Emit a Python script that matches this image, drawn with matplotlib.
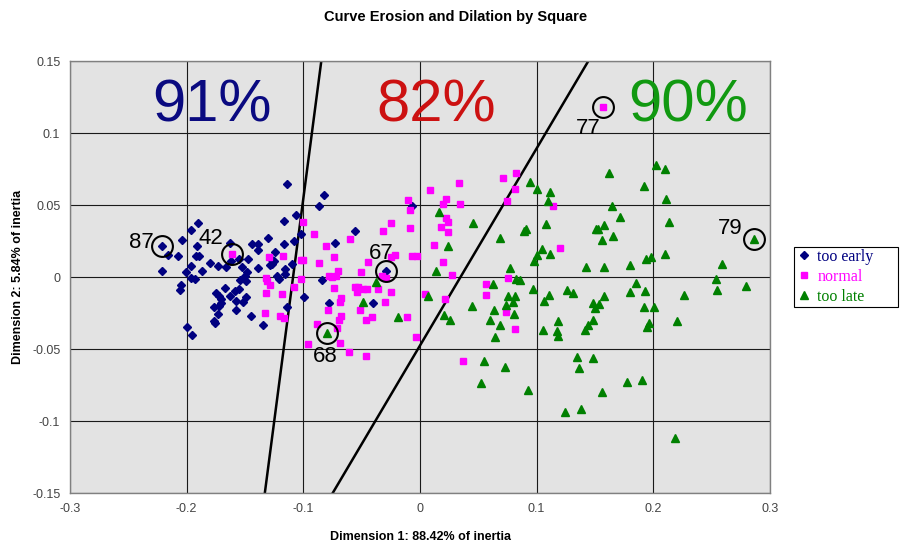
import matplotlib
matplotlib.use('Agg')
import matplotlib.pyplot as plt
from matplotlib.lines import Line2D
from matplotlib.patches import Rectangle

# ---------------- data ----------------
early_x = [-0.1137, -0.0823, -0.0866, -0.106, -0.1166, -0.1903, -0.196, -0.2214, -0.2037, -0.1911,
           -0.1631, -0.1437, -0.1386, -0.130, -0.1389, -0.1163, -0.108, -0.2163, -0.2077, -0.1917,
           -0.1894, -0.1797, -0.1731, -0.1666, -0.1551, -0.1474, -0.1623, -0.1523, -0.1486, -0.150,
           -0.1386, -0.1283, -0.1254, -0.1289, -0.1269, -0.1243, -0.116, -0.1157, -0.110, -0.2209,
           -0.196, -0.2009, -0.1866, -0.1963, -0.1929, -0.1546, -0.1494, -0.123, -0.121, -0.2051,
           -0.206, -0.1671, -0.1554, -0.1589, -0.1746, -0.1723, -0.1709, -0.1631, -0.1494, -0.1517,
           -0.1766, -0.1723, -0.1706, -0.1574, -0.158, -0.1734, -0.1766, -0.1757, -0.1451, -0.1346,
           -0.1137, -0.0994, -0.1994, -0.1957, -0.078, -0.0843, -0.0558, -0.0727, -0.0293, -0.0402,
           -0.0066, -0.102]
early_y = [0.0645, 0.0569, 0.0493, 0.0433, 0.0392, 0.0378, 0.0328, 0.0213, 0.0255, 0.0218,
           0.0236, 0.0230, 0.0226, 0.0268, 0.019, 0.0229, 0.025, 0.0154, 0.0144, 0.0144,
           0.0144, 0.0094, 0.0078, 0.0069, 0.0126, 0.0126, 0.011, 0.0067, 0.0034, 0.0007,
           0.0064, 0.013, 0.011, 0.008, 0.009, 0.0172, 0.0057, 0.0018, 0.009, 0.0041,
           0.0076, 0.0034, 0.0041, -0.0005, -0.0011, -0.002, -0.0025, 0.0007, -0.0016, -0.0057,
           -0.0092, -0.0073, -0.0085, -0.0097, -0.0112, -0.0135, -0.0154, -0.0135, -0.0142, -0.0177,
           -0.0211, -0.0200, -0.0184, -0.0165, -0.0227, -0.0257, -0.0303, -0.0319, -0.0273, -0.033,
           -0.0206, -0.0142, -0.0349, -0.0401, -0.0184, -0.0023, 0.0321, 0.0236, 0.004, -0.0178,
           0.049, 0.030]

normal_x = [-0.1614, -0.1003, -0.0911, -0.0809, -0.0737, -0.1171, -0.1291, -0.1023, -0.1, -0.0866,
            -0.132, -0.131, -0.1286, -0.1317, -0.118, -0.1077, -0.1017, -0.1329, -0.12, -0.1166,
            -0.088, -0.0957, -0.078, -0.072, 0.0086, -0.01, -0.0086, -0.0249, -0.0317, -0.0086,
            -0.0603, -0.07, -0.0755, -0.0506, -0.0449, -0.0251, -0.0214, -0.0066, -0.0026, 0.012,
            -0.0323, -0.0294, -0.0363, -0.0557, -0.0529, -0.0543, -0.0489, -0.0451, -0.0249, -0.0303,
            -0.0517, -0.0409, -0.0466, -0.0109, -0.0031, -0.068, -0.0689, -0.0737, -0.0786, -0.068,
            -0.0694, -0.0709, -0.0689, -0.0609, -0.0466, 0.004, 0.0331, 0.0715, 0.0827, 0.0816,
            0.0749, 0.1144, 0.0222, 0.0199, 0.0343, 0.0222, 0.0236, 0.0179, 0.0236, 0.0199,
            0.0271, 0.0213, 0.0568, 0.0568, 0.0755, 0.0741, 0.0813, 0.0372, 0.1202, 0.157]
normal_y = [0.0163, 0.0385, 0.0298, 0.0213, 0.014, 0.0149, 0.014, 0.0117, 0.0115, 0.0099,
            -0.0005, -0.0025, -0.0057, -0.0112, -0.0119, -0.0067, -0.0016, -0.025, -0.0268, -0.0287,
            -0.0326, -0.0468, 0.001, 0.0005, 0.0604, 0.0535, 0.0465, 0.0373, 0.0322, 0.0342,
            0.0264, 0.0042, 0.0, 0.0037, 0.0106, 0.0137, 0.0153, 0.0146, 0.0146, 0.0222,
            0.0007, -0.0009, -0.0085, -0.0067, -0.0072, -0.0102, -0.0086, -0.0085, -0.0106, -0.0171,
            -0.023, -0.0276, -0.0299, -0.028, -0.0414, -0.0148, -0.0171, -0.0079, -0.023, -0.027,
            -0.0299, -0.0356, -0.046, -0.0519, -0.0546, -0.012, 0.0656, 0.069, 0.0722, 0.0608,
            0.0528, 0.0495, 0.0541, 0.0505, 0.0505, 0.0408, 0.0385, 0.0344, 0.0312, 0.0106,
            0.0011, -0.0154, -0.0046, -0.0124, -0.0009, -0.0241, -0.036, -0.0583, 0.0202, 0.1183]

late_x = [-0.038, -0.0489, -0.0186, -0.0794, 0.0071, 0.0134, 0.0162, 0.0452, 0.0242, 0.0683,
          0.0895, 0.091, 0.0942, 0.1006, 0.111, 0.1101, 0.1078, 0.1043, 0.1, 0.111,
          0.0977, 0.0769, 0.0821, 0.0856, 0.0625, 0.0971, 0.0755, 0.0813, 0.0741, 0.0798,
          0.1104, 0.1063, 0.0444, 0.0634, 0.0804, 0.0207, 0.0259, 0.0597, 0.0683, 0.064,
          0.1058, 0.1173, 0.1182, 0.1187, 0.0545, 0.0732, 0.1621, 0.192, 0.202, 0.21,
          0.2105, 0.2134, 0.1644, 0.1712, 0.1507, 0.1524, 0.1581, 0.165, 0.1556, 0.1422,
          0.1581, 0.1798, 0.1934, 0.198, 0.21, 0.1256, 0.1308, 0.1581, 0.1479, 0.153,
          0.1496, 0.1798, 0.1929, 0.1855, 0.192, 0.2006, 0.1479, 0.1444, 0.141, 0.1963,
          0.1949, 0.2205, 0.1345, 0.1365, 0.1487, 0.1778, 0.19, 0.1556, 0.1245, 0.1379,
          0.0926, 0.0524, 0.2862, 0.2591, 0.2536, 0.2542, 0.2793, 0.2259, 0.2187]
late_y = [-0.0032, -0.0171, -0.0275, -0.0391, -0.0132, 0.0042, 0.045, 0.0378, 0.0213, 0.0271,
          0.0321, 0.0333, 0.066, 0.061, 0.0592, 0.0528, 0.0367, 0.0195, 0.0154, 0.0163,
          0.0108, 0.006, -0.0011, -0.0021, -0.005, -0.008, -0.0135, -0.0135, -0.0195, -0.0172,
          -0.0126, -0.017, -0.0204, -0.0227, -0.0257, -0.0264, -0.030, -0.0296, -0.033, -0.0417,
          -0.0365, -0.0372, -0.0413, -0.0303, -0.0585, -0.0622, 0.0722, 0.0631, 0.0775, 0.0752,
          0.0539, 0.0381, 0.0493, 0.042, 0.0335, 0.0335, 0.0362, 0.0282, 0.0255, 0.0069,
          0.0067, 0.008, 0.0128, 0.014, 0.016, -0.0089, -0.0112, -0.0131, -0.0181, -0.0188,
          -0.0218, -0.0103, -0.0099, -0.0039, -0.0211, -0.0211, -0.0296, -0.033, -0.0367, -0.0319,
          -0.0349, -0.0307, -0.0555, -0.0635, -0.0562, -0.0732, -0.0716, -0.0796, -0.0938, -0.0915,
          -0.0784, -0.0738, 0.0264, 0.0092, -0.0016, -0.0089, -0.0062, -0.0126, -0.1117]

# highlighted (circled) observations
hl_labels = ['87', '42', '67', '68', '77', '79']
hl_x = [-0.2214, -0.1614, -0.0293, -0.0794, 0.157, 0.2862]
hl_y = [0.0213, 0.0163, 0.004, -0.0391, 0.1183, 0.0264]

# separating lines: x at bottom (y=-0.15) and top (y=0.15)
line_y = [-0.15, 0.15]
line1_x = [-0.133, -0.0846]
line2_x = [-0.0748, 0.1443]

# classification rates
pct_labels = ['91%', '82%', '90%']

series_names = ['too early', 'normal', 'too late']
series_colors = ['#000080', '#FF00FF', '#008000']
pct_colors = ['#0A0A80', '#CC1111', '#119911']

xticks = [-0.3, -0.2, -0.1, 0, 0.1, 0.2, 0.3]
xtick_labels = ['-0.3', '-0.2', '-0.1', '0', '0.1', '0.2', '0.3']
yticks = [-0.15, -0.1, -0.05, 0, 0.05, 0.1, 0.15]
ytick_labels = ['-0.15', '-0.1', '-0.05', '0', '0.05', '0.1', '0.15']

# ---------------- figure ----------------
plt.rcParams['font.family'] = ['Liberation Sans', 'DejaVu Sans']
W, H = 910, 546
fig = plt.figure(figsize=(W / 100, H / 100), dpi=100)
fig.patch.set_facecolor('white')
ax = fig.add_axes([70 / W, 53 / H, 700 / W, 432 / H])
ax.set_facecolor('#E3E3E3')
ax.set_xlim(-0.3, 0.3)
ax.set_ylim(-0.15, 0.15)
ax.set_xticks(xticks)
ax.set_xticklabels(xtick_labels)
ax.set_yticks(yticks)
ax.set_yticklabels(ytick_labels)
ax.tick_params(length=0, labelsize=9, labelcolor='#444444', pad=7)
ax.grid(True, color='#1a1a1a', lw=0.8)
ax.set_axisbelow(True)
for s in ax.spines.values():
    s.set_color('#808080')
    s.set_linewidth(1.0)

ax.plot(line1_x, line_y, color='black', lw=1.8, zorder=2, clip_on=True)
ax.plot(line2_x, line_y, color='black', lw=1.8, zorder=2, clip_on=True)

ax.plot(early_x, early_y, ls='none', marker='D', ms=3.8, color=series_colors[0], mec=series_colors[0], zorder=3)
ax.plot(normal_x, normal_y, ls='none', marker='s', ms=4.3, color=series_colors[1], mec=series_colors[1], zorder=3)
ax.plot(late_x, late_y, ls='none', marker='^', ms=5.3, color=series_colors[2], mec=series_colors[2], zorder=3)

ax.plot(hl_x, hl_y, ls='none', marker='o', ms=15, mfc='none', mec='black', mew=1.5, zorder=4)
offsets = [(-20, 4), (-21, 15), (-5, 18), (-2, -23), (-15, -22), (-24, 10)]
for lab, x, y, off in zip(hl_labels, hl_x, hl_y, offsets):
    ax.annotate(lab, (x, y), xytext=off, textcoords='offset pixels',
                ha='center', va='center', fontsize=16, color='black', zorder=5)

pct_pos = [0.203, 0.523, 0.883]
for lab, px, c in zip(pct_labels, pct_pos, pct_colors):
    ax.text(px, 0.896, lab, transform=ax.transAxes, ha='center', va='center',
            fontsize=43, color=c, zorder=5)

fig.text(456 / W, 1 - 17 / H, 'Curve Erosion and Dilation by Square',
         ha='center', va='center', fontsize=10.5, fontweight='bold',
         family=['Liberation Sans Narrow', 'Liberation Sans', 'DejaVu Sans'])
fig.text(420 / W, 1 - 537 / H, 'Dimension 1: 88.42% of inertia',
         ha='center', va='center', fontsize=9, fontweight='bold')
fig.text(18 / W, 1 - 277 / H, 'Dimension 2: 5.84% of inertia',
         ha='center', va='center', fontsize=9, fontweight='bold', rotation=90)

# legend frame drawn separately to match the wide box of the original
fig.patches.append(Rectangle((794 / W, 1 - 307 / H), 104 / W, 60 / H,
                             transform=fig.transFigure, facecolor='white',
                             edgecolor='black', lw=0.8, zorder=1))
markers = ['D', 's', '^']
msz = [4, 5, 6]
handles = [Line2D([], [], ls='none', marker=m, ms=s, color=c, mec=c)
           for m, s, c in zip(markers, msz, series_colors)]
leg = fig.legend(handles, series_names, loc='center left',
                 bbox_to_anchor=(795 / W, 1 - 277 / H),
                 prop={'family': ['Liberation Serif', 'DejaVu Serif'], 'size': 11.5},
                 frameon=False, handlelength=0.7, handletextpad=0.5, labelspacing=0.25,
                 borderpad=0.2, borderaxespad=0)
leg.set_zorder(2)
for t, c in zip(leg.get_texts(), series_colors):
    t.set_color(c)

fig.savefig('out.png', dpi=100)
